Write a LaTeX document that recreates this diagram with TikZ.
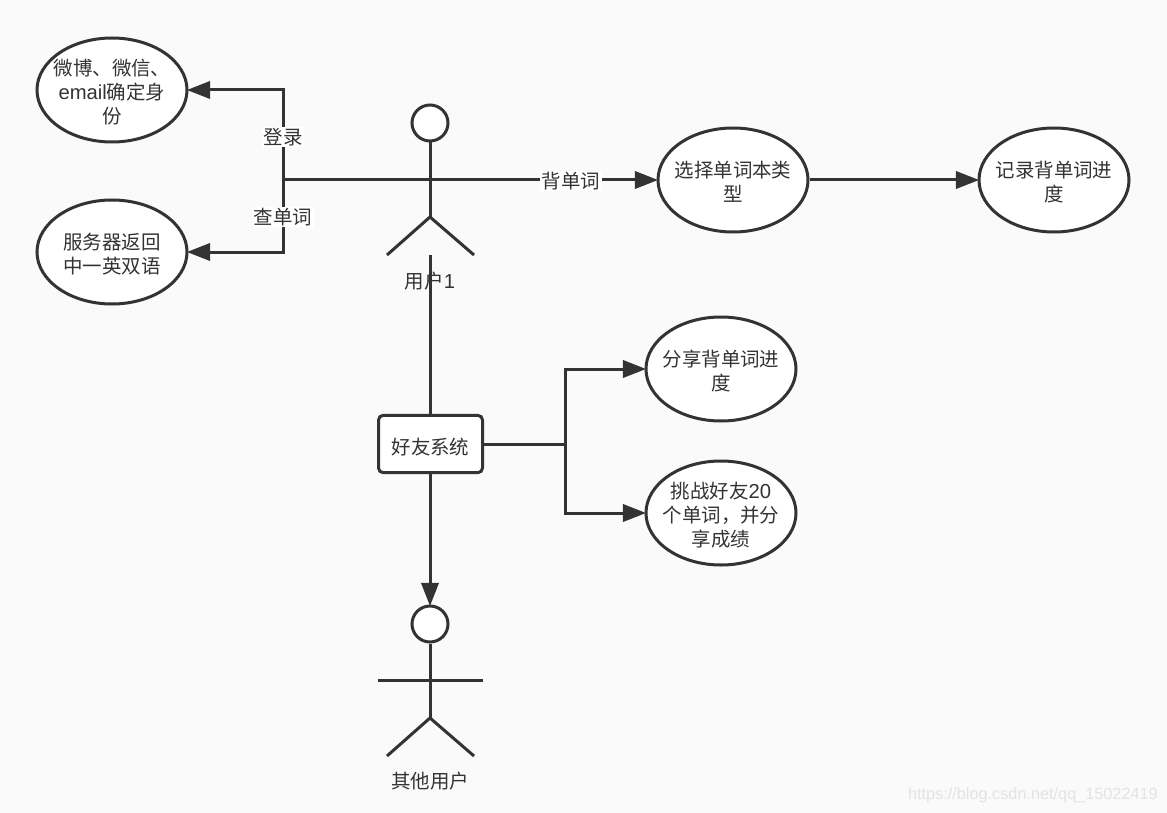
\documentclass[tikz,border=0pt]{standalone}
\usepackage{fontspec}
\setmainfont{Noto Sans CJK SC}
\newfontfamily\latinfont[Scale=1.04]{Liberation Sans}
\usetikzlibrary{shapes.geometric,arrows.meta}
\definecolor{ink}{HTML}{333333}
\definecolor{paper}{HTML}{FAFAFA}
\tikzset{
  x=0.75pt,y=-0.75pt,
  every node/.style={text=ink,font=\fontsize{14.6pt}{18pt}\selectfont},
  line/.style={draw=ink,line width=2.25pt},
  arrowline/.style={line,shorten >=-1.2pt,-{Triangle[length=17.5pt,width=13pt]}},
  usecase/.style={ellipse,draw=ink,line width=2.25pt,fill=white,minimum width=112.5pt,minimum height=78pt,inner sep=0pt},
  casetext/.style={inner sep=0pt,align=center},
  sysbox/.style={rectangle,rounded corners=3.5pt,draw=ink,line width=2.25pt,fill=white,minimum width=78pt,minimum height=43pt,inner sep=0pt},
  head/.style={circle,draw=ink,line width=2.25pt,fill=white,minimum size=27pt,inner sep=0pt},
  plain/.style={inner sep=0pt},
  edgelabel/.style={fill=white,inner sep=1pt},
  mark text/.style={text=black!11,inner sep=0pt,font=\fontspec{Liberation Sans}\fontsize{12.2pt}{14pt}\selectfont}
}
\begin{document}
\begin{tikzpicture}
\useasboundingbox (0,0) rectangle (1167,813);
\fill[paper] (0,0) rectangle (1167,813);

% named points
\coordinate (a1arml) at (378,180);
\coordinate (a1armr) at (483,180);
\coordinate (a1hip) at (430,217);
\coordinate (a1legl) at (387,255);
\coordinate (a1legr) at (474,255);
\coordinate (a1foot) at (430,255);
\coordinate (hub) at (283,180);
\coordinate (a2arml) at (378,680);
\coordinate (a2armr) at (483,680);
\coordinate (a2hip) at (430,718);
\coordinate (a2legl) at (387,756);
\coordinate (a2legr) at (474,756);
\coordinate (split) at (565,444);

% nodes
\node[usecase] (login) at (112,90) {};
\node[usecase] (server) at (112,252) {};
\node[usecase] (choose) at (733,180) {};
\node[usecase] (record) at (1054,180) {};
\node[usecase] (share) at (721,369) {};
\node[usecase] (challenge) at (721,513) {};
\node[head] (h1) at (430,123) {};
\node[head] (h2) at (430,624) {};
\node[sysbox] (friends) at (430.5,444) {};

% actor 1
\draw[line] (h1) -- (a1hip);
\draw[line] (a1legl) -- (a1hip) -- (a1legr);
\draw[line] (a1arml) -- (a1armr);
% actor 2
\draw[line] (h2) -- (a2hip);
\draw[line] (a2legl) -- (a2hip) -- (a2legr);
\draw[line] (a2arml) -- (a2armr);

% connectors
\draw[line] (hub) -- (a1arml);
\draw[arrowline] (a1arml) -- (choose);
\draw[arrowline] (hub) |- (login.east);
\draw[arrowline] (hub) |- (server.east);
\draw[arrowline] (choose) -- (record);
\draw[line] (a1foot) -- (friends.north -| a1foot);
\draw[arrowline] (friends.south -| h2) -- (h2);
\draw[line] (friends.east) -- (split);
\draw[arrowline] (split) |- (share.west);
\draw[arrowline] (split) |- (challenge.west);

% texts
\node[casetext] (logintext) at (112,92) {微博、微信、\\{\latinfont email}确定身\\份};
\node[casetext] (servertext) at (112,254) {服务器返回\\中一英双语};
\node[casetext] (choosetext) at (733,182) {选择单词本类\\型};
\node[casetext] (recordtext) at (1054,182) {记录背单词进\\度};
\node[casetext] (sharetext) at (721,371) {分享背单词进\\度};
\node[casetext] (challengetext) at (721,515) {挑战好友{\latinfont 20}\\个单词，并分\\享成绩};
\node[plain] (friendstext) at (430.5,447) {好友系统};
\node[edgelabel] (lblogin) at (283,137) {登录};
\node[edgelabel] (lbquery) at (283,217) {查单词};
\node[edgelabel] (lbrecite) at (571,181) {背单词};
\node[plain] (name1) at (430,281) {用户{\latinfont 1}};
\node[plain] (name2) at (430,781) {其他用户};
\node[mark text,anchor=east] (wm) at (1158,795) {https://blog.csdn.net/qq\_15022419};
\end{tikzpicture}
\end{document}
